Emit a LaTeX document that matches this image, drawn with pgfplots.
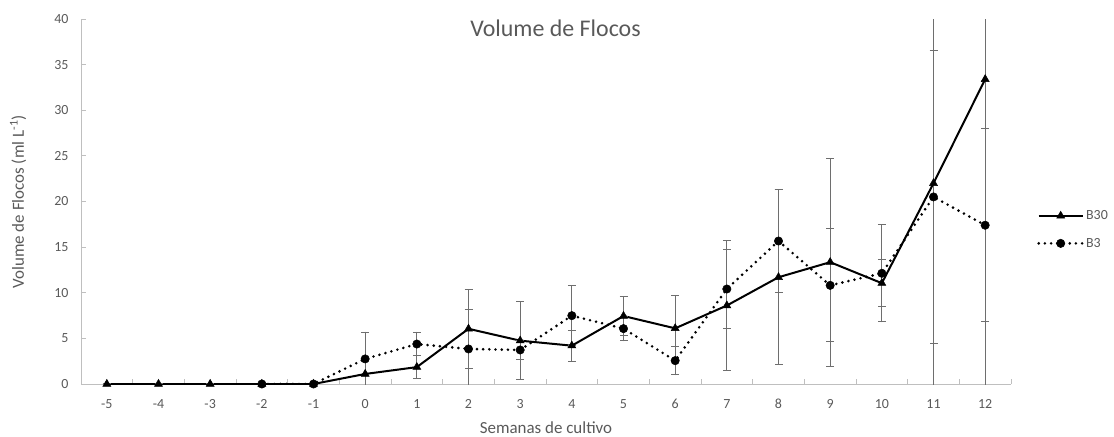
\documentclass[border=0pt]{standalone}
\usepackage{pgfplots}
\pgfplotsset{compat=1.18}
\usepackage{pgfplotstable}
\usepackage{fontspec}
\setmainfont{Carlito}
\usetikzlibrary{calc}
\definecolor{txt}{HTML}{595959}
\definecolor{axl}{HTML}{BFBFBF}
\definecolor{errc}{HTML}{6E6E6E}

\pgfplotstableread{
x y e
-5 0 0
-4 0 0
-3 0 0
-2 0 0
-1 0 0
0 1.1 1.5
1 1.85 1.3
2 6.05 4.35
3 4.75 4.25
4 4.2 1.7
5 7.45 2.1
6 6.1 3.65
7 8.6 7.1
8 11.7 9.6
9 13.35 11.4
10 11.05 2.6
11 22.0 24
12 33.4 36
}\dataBthirty

\pgfplotstableread{
x y e
-2 0 0
-1 0 0
0 2.75 2.9
1 4.38 1.28
2 3.84 4.35
3 3.73 1.0
4 7.49 3.25
5 6.07 1.32
6 2.56 1.52
7 10.41 4.35
8 15.67 5.6
9 10.81 6.2
10 12.13 5.3
11 20.5 16.1
12 17.4 10.6
}\dataBthree

\begin{document}
\begin{tikzpicture}
\useasboundingbox (0,0) rectangle (1114bp,437bp);
\begin{axis}[
  at={(81bp,53bp)}, anchor=south west,
  scale only axis, width=930bp, height=365bp,
  xmin=-5.5, xmax=12.5, ymin=0, ymax=40,
  axis lines*=left,
  axis line style={axl, line width=0.9bp},
  xtick={-5,-4,-3,-2,-1,0,1,2,3,4,5,6,7,8,9,10,11,12},
  xticklabels={-5,-4,-3,-2,-1,0,1,2,3,4,5,6,7,8,9,10,11,12},
  major x tick style={draw=none},
  minor xtick={-5.5,-4.5,-3.5,-2.5,-1.5,-0.5,0.5,1.5,2.5,3.5,4.5,5.5,6.5,7.5,8.5,9.5,10.5,11.5,12.5},
  minor x tick style={axl, line width=0.9bp},
  ytick={0,5,10,15,20,25,30,35,40},
  y tick style={axl, line width=0.9bp},
  tick align=inside,
  major tick length=5bp, minor tick length=5bp,
  /pgf/number format/assume math mode=true,
  ticklabel style={font=\fontsize{14}{16}\selectfont, text=txt},
  xticklabel style={anchor=base, yshift=-24bp},
  yticklabel style={xshift=-9bp},
  title={Volume de Flocos},
  title style={at={(rel axis cs:0.5102,0.957)}, anchor=center, yshift=0pt, font=\fontsize{24}{28}\selectfont, text=txt, inner sep=0pt},
  xlabel={Semanas de cultivo},
  xlabel style={at={(rel axis cs:0.5,0)}, anchor=base, yshift=-49bp, font=\fontsize{17}{19}\selectfont, text=txt, inner sep=0pt},
  ylabel={Volume de Flocos (ml L\textsuperscript{-1})},
  ylabel style={at={($(rel axis cs:0,0.434)+(-63bp,0)$)}, anchor=center, font=\fontsize{17}{19}\selectfont, text=txt, inner sep=0pt},
  legend style={at={(rel axis cs:1.028,0.423)}, anchor=west, draw=none, fill=none, inner sep=0pt, row sep=13bp, font=\fontsize{14}{16}\selectfont, text=txt, nodes={inner sep=2bp}},
  legend cell align=left,
  legend image code/.code={\draw[mark repeat=2,mark phase=2,#1] plot coordinates {(0bp,0bp) (22bp,0bp) (44bp,0bp)};},
  clip=true,
]
\addplot[black, solid, line width=2bp, mark=triangle*, mark size=4.6bp, mark options={solid, fill=black, line width=0.5bp},
  error bars/.cd, y dir=both, y explicit,
  error bar style={errc, line width=1bp, solid},
  error mark options={errc, rotate=90, mark size=4bp, line width=1bp}]
  table[x=x, y=y, y error=e] {\dataBthirty};
\addlegendentry{B30}
\addplot[black, line width=2.9bp, line cap=round, dash pattern=on 0bp off 6.2bp, mark=*, mark size=4.2bp, mark options={solid, fill=black, line width=0.5bp},
  error bars/.cd, y dir=both, y explicit,
  error bar style={errc, line width=1bp, solid},
  error mark options={errc, rotate=90, mark size=4bp, line width=1bp}]
  table[x=x, y=y, y error=e] {\dataBthree};
\addlegendentry{B3}
\end{axis}
\end{tikzpicture}
\end{document}
